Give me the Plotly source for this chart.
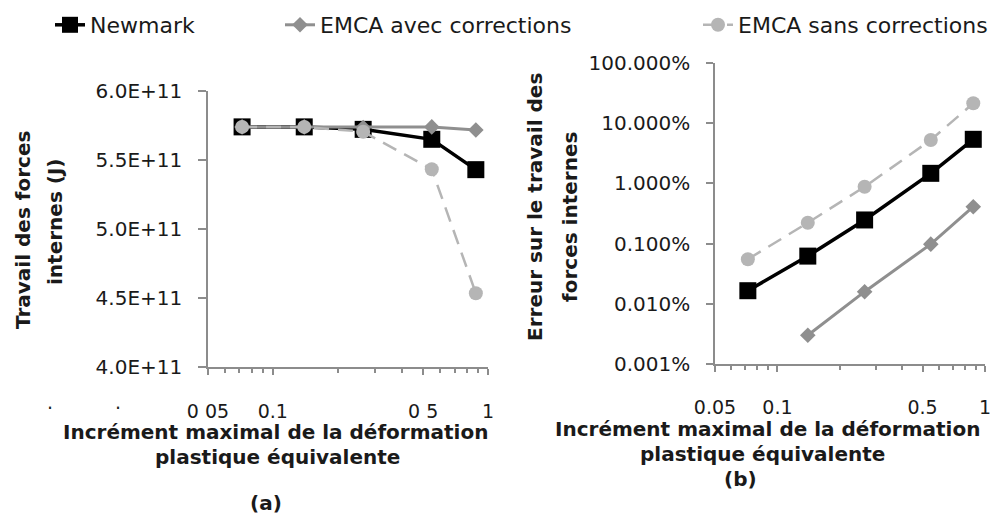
import math
import plotly.graph_objects as go

# ---------------- data ----------------
x_increment = [0.072, 0.14, 0.263, 0.548, 0.878]

travail_newmark = [5.74e11, 5.74e11, 5.722e11, 5.65e11, 5.43e11]
travail_avec = [5.74e11, 5.74e11, 5.735e11, 5.74e11, 5.717e11]
travail_sans = [5.74e11, 5.74e11, 5.705e11, 5.433e11, 4.534e11]

erreur_newmark = [0.000165, 0.00062, 0.00247, 0.0147, 0.054]
erreur_avec = [None, 0.000030, 0.000159, 0.00098, 0.0041]
erreur_sans = [0.00055, 0.00222, 0.0088, 0.0526, 0.214]

series_names = ["Newmark", "EMCA avec corrections", "EMCA sans corrections"]

x_tickvals = [0.05, 0.1, 0.5, 1]
x_ticktext_a = ["0 05", "0.1", "0 5", "1"]
x_ticktext_b = ["0.05", "0.1", "0.5", "1"]
x_minor = [0.06, 0.07, 0.08, 0.09, 0.2, 0.3, 0.4, 0.6, 0.7, 0.8, 0.9]

ya_tickvals = [4.0e11, 4.5e11, 5.0e11, 5.5e11, 6.0e11]
ya_ticktext = ["4.0E+11", "4.5E+11", "5.0E+11", "5.5E+11", "6.0E+11"]
yb_tickvals = [1e-5, 1e-4, 1e-3, 1e-2, 1e-1, 1]
yb_ticktext = ["0.001%", "0.010%", "0.100%", "1.000%", "10.000%", "100.000%"]

# ---------------- styles ----------------
W, H = 1007, 522
FONT = "DejaVu Sans"
TXT = "#1a1a1a"
AX = "#8c8c8c"
C_NEW = "#000000"
C_AVEC = "#8f8f8f"
C_SANS = "#b5b5b5"
TICK_SIZE = 20
XTICK_SIZE = 19
TITLE_SIZE = 20

styles = [
    dict(line=dict(color=C_NEW, width=3.5), marker=dict(symbol="square", size=17, color=C_NEW)),
    dict(line=dict(color=C_AVEC, width=3), marker=dict(symbol="diamond", size=12, color=C_AVEC)),
    dict(line=dict(color=C_SANS, width=2.5, dash="15px,9px"), marker=dict(symbol="circle", size=14, color=C_SANS)),
]

fig = go.Figure()
left_series = [travail_newmark, travail_avec, travail_sans]
right_series = [erreur_newmark, erreur_avec, erreur_sans]
legend_ids = ["legend", "legend2", "legend3"]

for i, (name, ys) in enumerate(zip(series_names, left_series)):
    fig.add_trace(go.Scatter(x=x_increment, y=ys, name=name, mode="lines+markers",
                             xaxis="x", yaxis="y", legend=legend_ids[i], **styles[i]))
for i, (name, ys) in enumerate(zip(series_names, right_series)):
    fig.add_trace(go.Scatter(x=x_increment, y=ys, name=name, mode="lines+markers",
                             xaxis="x2", yaxis="y2", showlegend=False, **styles[i]))

def px_x(p):
    return p / W

def px_y(p):
    return (H - p) / H

common_x = dict(type="log", range=[math.log10(0.05), 0], showline=True, linecolor=AX, linewidth=1.5,
                ticks="outside", ticklen=6, tickcolor=AX, tickwidth=1.5, tickvals=x_tickvals,
                minor=dict(tickvals=x_minor, ticks="outside", ticklen=4, tickcolor=AX, tickwidth=1.5),
                showgrid=False, zeroline=False, automargin=False,
                tickfont=dict(size=XTICK_SIZE, color=TXT, family=FONT))
common_y = dict(showline=True, linecolor=AX, linewidth=1.5, ticks="outside", tickcolor=AX, tickwidth=1.5,
                showgrid=False, zeroline=False, automargin=False,
                tickfont=dict(size=TICK_SIZE, color=TXT, family=FONT), ticklabelstandoff=12)

fig.update_layout(
    width=W, height=H, margin=dict(l=0, r=0, t=0, b=0, autoexpand=False),
    paper_bgcolor="white", plot_bgcolor="white",
    font=dict(family=FONT, color=TXT, size=TICK_SIZE),
    xaxis=dict(domain=[px_x(208), px_x(488)], anchor="y", ticktext=x_ticktext_a,
               ticklabelstandoff=20, **common_x),
    xaxis2=dict(domain=[px_x(715), px_x(985)], anchor="y2", ticktext=x_ticktext_b,
                ticklabelstandoff=19, **common_x),
    yaxis=dict(domain=[px_y(367), px_y(91)], anchor="x", range=[4.0e11, 6.0e11],
               tickvals=ya_tickvals, ticktext=ya_ticktext, ticklen=8, **common_y),
    yaxis2=dict(domain=[px_y(364), px_y(63)], anchor="x2", type="log", range=[-5, 0],
                tickvals=yb_tickvals, ticktext=yb_ticktext, ticklen=7, **common_y),
    showlegend=True,
)

leg_common = dict(orientation="h", yanchor="middle", xanchor="left", bgcolor="rgba(0,0,0,0)",
                  font=dict(size=22, color=TXT, family=FONT), borderwidth=0)
fig.update_layout(
    legend=dict(x=px_x(50), y=px_y(25), **leg_common),
    legend2=dict(x=px_x(280), y=px_y(25), **leg_common),
    legend3=dict(x=px_x(698), y=px_y(25), **leg_common),
)

ann = []
def add_text(text, x, y, bold=True, angle=0, size=TITLE_SIZE):
    ann.append(dict(text=f"<b>{text}</b>" if bold else text, x=px_x(x), y=px_y(y), xref="paper", yref="paper",
                    xanchor="center", yanchor="middle", showarrow=False, textangle=angle,
                    font=dict(size=size, color=TXT, family=FONT)))

add_text("Incrément maximal de la déformation", 275, 432)
add_text("plastique équivalente", 277, 457)
add_text("(a)", 266, 503)
add_text("Incrément maximal de la déformation", 767, 429)
add_text("plastique équivalente", 762, 454)
add_text("(b)", 740, 479)
add_text("Travail des forces", 23, 230, angle=-90)
add_text("internes (J)", 55, 222, angle=-90)
add_text("Erreur sur le travail des", 535, 207, angle=-90)
add_text("forces internes", 570, 217, angle=-90)
add_text(".", 50, 402, bold=False, size=XTICK_SIZE)
add_text(".", 118, 402, bold=False, size=XTICK_SIZE)
fig.update_layout(annotations=ann)

fig.write_html("out.html")
